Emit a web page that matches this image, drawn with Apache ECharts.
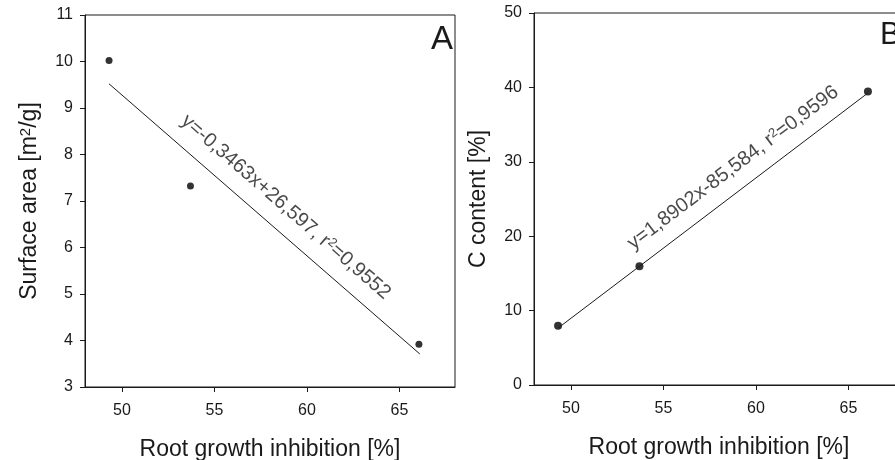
<!DOCTYPE html>
<html><head><meta charset="utf-8">
<script src="https://cdn.jsdelivr.net/npm/echarts@6/dist/echarts.min.js"></script>
<style>html,body{margin:0;padding:0;background:#fff;overflow:hidden}#c{width:895px;height:460px}</style>
</head><body><div id="c"></div>
<script>
// ---- data ----
const inhibition = [49.3, 53.7, 66.05];        // Root growth inhibition [%]
const surfaceArea = [10.02, 7.32, 3.92];       // Panel A: Surface area [m2/g]
const cContent = [7.98, 15.95, 39.45];         // Panel B: C content [%]
const fitAx = [49.3, 66.1];                     // regression line A end points (x)
const fitAy = [9.52, 3.71];                     // regression line A end points (y)
const fitBx = [49.3, 66.05];                    // regression line B end points (x)
const fitBy = [7.65, 39.25];                    // regression line B end points (y)
const xTicks = [50, 55, 60, 65];
const eqA = ['y=-0,3463x+26,597, r', '2', '=0,9552'];
const eqB = ['y=1,8902x-85,584, r', '2', '=0,9596'];

// ---- annotation anchors (data units) ----
const eqAnchorA = [58.85, 6.87];
const eqAnchorB = [58.76, 29.2];

const FONT = '"Liberation Sans", Arial, Helvetica, sans-serif';
const INK = '#1a1a1a';

const pts = (xs, ys) => xs.map((x, i) => [x, ys[i]]);

function xAxis(gridIndex) {
  return {
    type: 'value', gridIndex, min: 48, max: 68,
    name: 'Root growth inhibition [%]', nameLocation: 'middle', nameGap: 51,
    nameTextStyle: { fontSize: 23, color: INK, fontFamily: FONT },
    axisLine: { show: true, lineStyle: { color: INK, width: 1 } },
    axisTick: { show: true, length: 5, inside: false, customValues: xTicks, lineStyle: { color: INK } },
    axisLabel: { customValues: xTicks, margin: 16, fontSize: 16, color: INK, fontFamily: FONT },
    splitLine: { show: false }
  };
}
function yAxis(gridIndex, min, max, interval, name, gap) {
  return {
    type: 'value', gridIndex, min, max, interval,
    name, nameLocation: 'middle', nameGap: gap,
    nameTextStyle: {
      fontSize: 23, color: INK, fontFamily: FONT,
      rich: {
        n: { fontSize: 23, color: INK, fontFamily: FONT },
        s: { fontSize: 15, color: INK, fontFamily: FONT, verticalAlign: 'top' }
      }
    },
    axisLine: { show: true, lineStyle: { color: INK, width: 1 } },
    axisTick: { show: true, length: 5, inside: false, lineStyle: { color: INK } },
    axisLabel: { margin: 12, fontSize: 16, color: INK, fontFamily: FONT },
    splitLine: { show: false }
  };
}
function eqSeries(idx, anchor, parts, rot) {
  return {
    type: 'scatter', xAxisIndex: idx, yAxisIndex: idx, symbolSize: 0, silent: true,
    data: [anchor],
    label: {
      show: true, position: 'inside', rotate: rot,
      formatter: '{t|' + parts[0] + '}{s|' + parts[1] + '}{t|' + parts[2] + '}',
      rich: {
        t: { fontSize: 20, color: INK, fontFamily: FONT },
        s: { fontSize: 13, color: INK, fontFamily: FONT, verticalAlign: 'top' }
      }
    }
  };
}

const chart = echarts.init(document.getElementById('c'), null, { renderer: 'canvas' });
chart.setOption({
  animation: false,
  backgroundColor: '#fff',
  grid: [
    { left: 85, top: 15, width: 370, height: 372, containLabel: false, outerBoundsMode: 'none',
      show: true, borderColor: INK, borderWidth: 1, backgroundColor: 'transparent' },
    { left: 534, top: 13, width: 370, height: 372, containLabel: false, outerBoundsMode: 'none',
      show: true, borderColor: INK, borderWidth: 1, backgroundColor: 'transparent' }
  ],
  xAxis: [xAxis(0), xAxis(1)],
  yAxis: [
    yAxis(0, 3, 11, 1, '{n|Surface area [m}{s|2}{n|/g]}', 44),
    yAxis(1, 0, 50, 10, 'C content [%]', 44)
  ],
  graphic: [
    { type: 'text', right: 895 - 453, top: 23, style: { text: 'A', fontSize: 33, fill: INK, fontFamily: FONT } },
    { type: 'text', left: 880, top: 20, style: { text: 'B', fontSize: 31, fill: INK, fontFamily: FONT } }
  ],
  series: [
    { type: 'line', xAxisIndex: 0, yAxisIndex: 0, data: pts(fitAx, fitAy), showSymbol: false, symbol: 'none',
      lineStyle: { color: INK, width: 1 }, silent: true },
    { type: 'scatter', xAxisIndex: 0, yAxisIndex: 0, data: pts(inhibition, surfaceArea), symbolSize: 7,
      itemStyle: { color: '#000' } },
    eqSeries(0, eqAnchorA, eqA, -41),
    { type: 'line', xAxisIndex: 1, yAxisIndex: 1, data: pts(fitBx, fitBy), showSymbol: false, symbol: 'none',
      lineStyle: { color: INK, width: 1 }, silent: true },
    { type: 'scatter', xAxisIndex: 1, yAxisIndex: 1, data: pts(inhibition, cContent), symbolSize: 8,
      itemStyle: { color: '#000' } },
    eqSeries(1, eqAnchorB, eqB, 37)
  ]
});
</script></body></html>
